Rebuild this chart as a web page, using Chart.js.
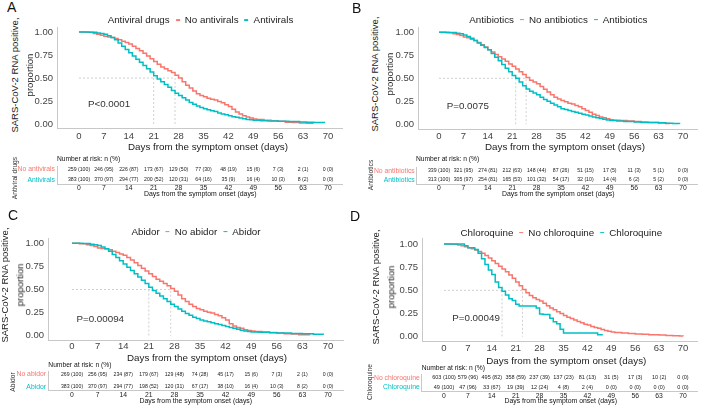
<!DOCTYPE html>
<html><head><meta charset="utf-8">
<script src="https://cdn.jsdelivr.net/npm/chart.js@4.4.1/dist/chart.umd.min.js"></script>
<style>
html,body{margin:0;padding:0;background:#fff;}
#root{position:relative;width:701px;height:408px;overflow:hidden;font-family:"Liberation Sans",Arial,sans-serif;color:#222;}
canvas{position:absolute;}
.t{position:absolute;white-space:nowrap;line-height:1;}
.lg{position:absolute;display:flex;align-items:center;white-space:nowrap;line-height:1;font-size:9.8px;color:#222;transform:translate(-50%,-50%);}
.dash{display:inline-block;width:4px;height:1.6px;margin:0 5px 0 6px;}
</style></head><body><div id="root"></div>
<script>
// ---------- shared ----------
const xTicks=[0,7,14,21,28,35,42,49,56,63,70];
const yTicks=[0,0.25,0.5,0.75,1];
const xTitle="Days from the symptom onset (days)";
const yTitle=["SARS-CoV-2 RNA positive,","proportion"];
const riskTitle="Number at risk: n (%)";

// ---------- Panel A ----------
const groupA="Antiviral drugs";
const namesA=["No antivirals","Antivirals"];
const kmA_no=[[0,1],[2,0.996],[4,0.985],[5,0.975],[6,0.965],[7,0.955],[8,0.945],[9,0.94],[10,0.93],[11,0.915],[12,0.9],[13,0.885],[14,0.87],[15,0.845],[16,0.82],[17,0.795],[18,0.77],[19,0.74],[20,0.71],[21,0.68],[22,0.65],[23,0.62],[24,0.6],[25,0.58],[26,0.56],[27,0.53],[28,0.5],[29,0.46],[30,0.42],[31,0.39],[32,0.36],[33,0.33],[34,0.31],[35,0.295],[36,0.28],[37,0.27],[38,0.26],[39,0.245],[40,0.23],[41,0.21],[42,0.19],[43,0.16],[44,0.13],[45,0.11],[46,0.09],[47,0.075],[48,0.065],[49,0.055],[50,0.048],[52,0.04],[54,0.035],[56,0.03],[58,0.02],[60,0.015],[62,0.01],[64,0.007],[65.8,0.004]];
const kmA_yes=[[0,1],[3,0.997],[5,0.99],[6,0.985],[7,0.975],[8,0.96],[9,0.94],[10,0.915],[11,0.88],[12,0.845],[13,0.81],[14,0.775],[15,0.74],[16,0.705],[17,0.67],[18,0.635],[19,0.6],[20,0.565],[21,0.525],[22,0.49],[23,0.46],[24,0.43],[25,0.4],[26,0.365],[27,0.335],[28,0.31],[29,0.285],[30,0.26],[31,0.235],[32,0.215],[33,0.195],[34,0.18],[35,0.165],[36,0.155],[37,0.145],[38,0.135],[39,0.12],[40,0.11],[41,0.1],[42,0.09],[43,0.08],[44,0.073],[45,0.066],[46,0.058],[47,0.05],[48,0.045],[49,0.04],[51,0.036],[53,0.033],[56,0.03],[59,0.027],[62,0.022],[64,0.02],[66,0.015],[69,0.01]];
const riskA_no=["259 (100)","246 (95)","226 (87)","173 (67)","129 (50)","77 (30)","48 (19)","15 (6)","7 (3)","2 (1)","0 (0)"];
const riskA_yes=["383 (100)","370 (97)","294 (77)","200 (52)","120 (31)","64 (16)","35 (9)","16 (4)","10 (3)","8 (2)","0 (0)"];
const medianA=[21,27];
const pvalA="P<0.0001";

// ---------- Panel B ----------
const groupB="Antibiotics";
const namesB=["No antibiotics","Antibiotics"];
const kmB_no=[[0,1],[2,0.995],[4,0.985],[5,0.975],[6,0.965],[7,0.95],[8,0.94],[9,0.925],[10,0.91],[11,0.89],[12,0.865],[13,0.84],[14,0.81],[15,0.785],[16,0.76],[17,0.735],[18,0.71],[19,0.685],[20,0.655],[21,0.63],[22,0.6],[23,0.57],[24,0.54],[25,0.51],[26,0.48],[27,0.46],[28,0.44],[29,0.41],[30,0.38],[31,0.35],[32,0.32],[33,0.295],[34,0.275],[35,0.26],[36,0.245],[37,0.23],[38,0.22],[39,0.205],[40,0.19],[41,0.17],[42,0.15],[43,0.13],[44,0.11],[45,0.095],[46,0.08],[47,0.07],[48,0.06],[49,0.05],[50,0.045],[52,0.04],[54,0.035],[56,0.03],[58,0.025],[60,0.02],[63,0.015],[65,0.01],[66.3,0.008]];
const kmB_yes=[[0,1],[3,0.997],[5,0.99],[6,0.985],[7,0.97],[8,0.955],[9,0.935],[10,0.91],[11,0.885],[12,0.86],[13,0.835],[14,0.81],[15,0.77],[16,0.73],[17,0.69],[18,0.65],[19,0.61],[20,0.57],[21,0.53],[22,0.5],[23,0.46],[24,0.42],[25,0.385],[26,0.36],[27,0.34],[28,0.32],[29,0.295],[30,0.27],[31,0.25],[32,0.23],[33,0.21],[34,0.19],[35,0.17],[36,0.16],[37,0.15],[38,0.14],[39,0.13],[40,0.12],[41,0.11],[42,0.1],[43,0.09],[44,0.08],[45,0.07],[46,0.062],[47,0.055],[48,0.048],[49,0.04],[51,0.035],[53,0.03],[56,0.025],[58,0.02],[63,0.018],[65,0.012],[67,0.008],[69,0.004]];
const riskB_no=["339 (100)","321 (95)","274 (81)","212 (63)","148 (44)","87 (26)","51 (15)","17 (5)","11 (3)","5 (1)","0 (0)"];
const riskB_yes=["313 (100)","305 (97)","254 (81)","165 (53)","101 (32)","54 (17)","32 (10)","14 (4)","6 (2)","5 (2)","0 (0)"];
const medianB=[22,25];
const pvalB="P=0.0075";

// ---------- Panel C ----------
const groupC="Abidor";
const namesC=["No abidor","Abidor"];
const kmC_no=[[0,1],[2,0.996],[4,0.985],[5,0.975],[6,0.965],[7,0.95],[8,0.945],[9,0.94],[10,0.93],[11,0.915],[12,0.9],[13,0.885],[14,0.87],[15,0.845],[16,0.82],[17,0.79],[18,0.76],[19,0.73],[20,0.7],[21,0.67],[22,0.64],[23,0.61],[24,0.59],[25,0.565],[26,0.54],[27,0.51],[28,0.48],[29,0.44],[30,0.4],[31,0.37],[32,0.34],[33,0.315],[34,0.295],[35,0.28],[36,0.265],[37,0.255],[38,0.245],[39,0.23],[40,0.215],[41,0.195],[42,0.17],[43,0.13],[44,0.105],[45,0.09],[46,0.08],[47,0.065],[48,0.055],[49,0.05],[50,0.045],[52,0.04],[54,0.035],[56,0.03],[58,0.022],[60,0.018],[62,0.01],[65,0.005]];
const kmC_yes=[[0,1],[3,0.997],[5,0.99],[6,0.985],[7,0.975],[8,0.96],[9,0.94],[10,0.915],[11,0.88],[12,0.845],[13,0.81],[14,0.775],[15,0.74],[16,0.705],[17,0.67],[18,0.635],[19,0.6],[20,0.565],[21,0.525],[22,0.49],[23,0.46],[24,0.43],[25,0.4],[26,0.37],[27,0.34],[28,0.315],[29,0.29],[30,0.265],[31,0.24],[32,0.22],[33,0.2],[34,0.185],[35,0.17],[36,0.16],[37,0.15],[38,0.14],[39,0.13],[40,0.12],[41,0.11],[42,0.1],[43,0.09],[44,0.08],[45,0.07],[46,0.06],[47,0.05],[48,0.045],[49,0.04],[51,0.036],[54,0.033],[56,0.03],[60,0.025],[63,0.02],[66,0.015],[68.7,0.01]];
const riskC_no=["269 (100)","256 (95)","234 (87)","179 (67)","129 (48)","74 (28)","45 (17)","15 (6)","7 (3)","2 (1)","0 (0)"];
const riskC_yes=["383 (100)","370 (97)","294 (77)","198 (52)","120 (31)","67 (17)","38 (10)","16 (4)","10 (3)","8 (2)","0 (0)"];
const medianC=[21,27];
const pvalC="P=0.00094";

// ---------- Panel D ----------
const groupD="Chloroquine";
const namesD=["No chloroquine","Chloroquine"];
const kmD_no=[[0,1],[2,0.997],[4,0.99],[5,0.98],[6,0.97],[7,0.96],[8,0.95],[9,0.935],[10,0.92],[11,0.9],[12,0.875],[13,0.85],[14,0.82],[15,0.79],[16,0.76],[17,0.73],[18,0.7],[19,0.665],[20,0.63],[21,0.59],[22,0.55],[23,0.51],[24,0.475],[25,0.445],[26,0.42],[27,0.4],[28,0.385],[29,0.36],[30,0.335],[31,0.31],[32,0.29],[33,0.27],[34,0.25],[35,0.23],[36,0.21],[37,0.195],[38,0.18],[39,0.165],[40,0.15],[41,0.135],[42,0.125],[43,0.11],[44,0.1],[45,0.09],[46,0.078],[47,0.068],[48,0.06],[49,0.05],[50,0.045],[52,0.04],[54,0.035],[56,0.03],[58,0.026],[60,0.022],[63,0.018],[65,0.013],[67,0.01],[69,0.007],[70,0.005]];
const kmD_yes=[[0,1],[6,0.98],[7,0.96],[9,0.94],[10,0.9],[11,0.84],[12,0.78],[13,0.72],[14,0.67],[15,0.59],[16,0.53],[17,0.49],[18,0.45],[19,0.41],[20,0.39],[21,0.35],[22,0.33],[27,0.31],[28,0.245],[29,0.24],[31,0.2],[32,0.16],[33,0.14],[34,0.08],[35,0.04],[45,0.02],[46.5,0.02]];
const riskD_no=["603 (100)","579 (96)","495 (82)","358 (59)","237 (39)","137 (23)","81 (13)","31 (5)","17 (3)","10 (2)","0 (0)"];
const riskD_yes=["49 (100)","47 (96)","33 (67)","19 (39)","12 (24)","4 (8)","2 (4)","0 (0)","0 (0)","0 (0)","0 (0)"];
const medianD=[17,23];
const pvalD="P=0.00049";

// ---------- styling / layout (not data) ----------
const RED="#F8766D", TEAL="#00BFC4", AXC="#c8c8c8", TXT="#333";
const FONT='"Liberation Sans", Arial, sans-serif';
Chart.defaults.font.family=FONT;

const panels=[
 {letter:"A",group:groupA,names:namesA,no:kmA_no,yes:kmA_yes,rNo:riskA_no,rYes:riskA_yes,med:medianA,p:pvalA,
  L:{let:[7,7],leg:[200.5,20],yt:[15,30,75],x0:79,x70:328,y1:32,y0:124,left:57,tickY:136.5,xt:[208,147],pv:[2.5,0.21],
     nar:[57,159.3],r1:169.3,r2:180,tt:188.3,ttl:[200.3,194.3],gl:[14.5,178],tleft:57,vf:5.2}},
 {letter:"B",group:groupB,names:namesB,no:kmB_no,yes:kmB_yes,rNo:riskB_no,rYes:riskB_yes,med:medianB,p:pvalB,
  L:{let:[352,7.5],leg:[558.4,19.5],yt:[375,390,74],x0:439,x70:683,y1:32.3,y0:124.3,left:418,tickY:136.7,xt:[565,146.7],pv:[2.2,0.196],
     nar:[416,159.3],r1:170.7,r2:180,tt:188.3,ttl:[558.3,194.3],gl:[370.5,175],tleft:416.7,vf:5.2}},
 {letter:"C",group:groupC,names:namesC,no:kmC_no,yes:kmC_yes,rNo:riskC_no,rYes:riskC_yes,med:medianC,p:pvalC,
  L:{let:[8,215],leg:[196,231.7],yt:[5,20,285],x0:72,x70:328,y1:243.3,y0:335.7,left:48,tickY:346.7,xt:[207,358.3],pv:[1.2,0.175],
     nar:[48.3,365],r1:374.3,r2:386.7,tt:395,ttl:[195.8,401],gl:[12.5,381.5],tleft:48,vf:5.2}},
 {letter:"D",group:groupD,names:namesD,no:kmD_no,yes:kmD_yes,rNo:riskD_no,rYes:riskD_yes,med:medianD,p:pvalD,
  L:{let:[350,216],leg:[561.3,232.7],yt:[376,391,287],x0:444,x70:683,y1:244,y0:336.7,left:422,tickY:348.3,xt:[566.3,360.7],pv:[2.4,0.197],
     nar:[421.7,367.7],r1:377.7,r2:387.3,tt:395.7,ttl:[560.8,401],gl:[370,381.5],tleft:421.7,vf:5.5}}
];

const root=document.getElementById('root');
function T(txt,x,y,o={}){
  const d=document.createElement('div');d.className='t';d.textContent=txt;
  d.style.fontSize=(o.size||10)+'px';d.style.color=o.color||'#222';
  d.style.left=x+'px';d.style.top=y+'px';
  const tx=o.align==='center'?'-50%':(o.align==='right'?'-100%':'0');
  d.style.transform=o.rot?`translate(-50%,-50%) rotate(${o.rot}deg)`:`translate(${tx},-50%)`;
  root.appendChild(d);return d;
}
function mkCanvas(l,t,r,b){
  const c=document.createElement('canvas');
  const w=Math.round(r-l),h=Math.round(b-t);
  c.width=w;c.height=h;c.style.left=Math.round(l)+'px';c.style.top=Math.round(t)+'px';
  c.style.width=w+'px';c.style.height=h+'px';root.appendChild(c);
  return {c,l:Math.round(l),t:Math.round(t),r:Math.round(l)+w,b:Math.round(t)+h};
}
const pvalPlugin={id:'pval',afterDatasetsDraw(ch,a,o){
  if(!o.text)return;const {ctx,scales:{x,y}}=ch;ctx.save();
  ctx.font=`9.8px ${FONT}`;ctx.fillStyle=TXT;ctx.textAlign='left';ctx.textBaseline='middle';
  ctx.fillText(o.text,x.getPixelForValue(o.x),y.getPixelForValue(o.y));ctx.restore();}};
const riskPlugin={id:'risk',afterDatasetsDraw(ch,a,o){
  const ctx=ch.ctx;ctx.save();ctx.font=`${o.size}px ${FONT}`;ctx.fillStyle='#222';ctx.textAlign='center';ctx.textBaseline='middle';
  ch.data.datasets.forEach((ds,i)=>{const m=ch.getDatasetMeta(i);m.data.forEach((pt,j)=>ctx.fillText(ds.riskText[j],pt.x,pt.y));});
  ctx.restore();}};

panels.forEach(P=>{
  const L=P.L;
  const ppd=(L.x70-L.x0)/70, ppu=L.y0-L.y1;
  const xmax=74.2, xmin=(L.left-L.x0)/ppd;
  const pL=L.left, pR=L.x0+xmax*ppd, pT=L.y1-0.054*ppu, pB=L.y0+0.054*ppu;
  const K=mkCanvas(pL-27,pT-10,Math.min(701,pR+3),pB+16);
  const xPad=Math.max(0,L.tickY-pB-5.7);
  const mMax=Math.max(...P.med), mMin=Math.min(...P.med);
  new Chart(K.c,{type:'line',
    data:{datasets:[
      {data:P.yes.map(([x,y])=>({x,y})),borderColor:TEAL,borderWidth:1.5,stepped:true,pointRadius:0,fill:false},
      {data:P.no.map(([x,y])=>({x,y})),borderColor:RED,borderWidth:1.5,stepped:true,pointRadius:0,fill:false},
      {data:[{x:0,y:0.5},{x:mMax,y:0.5},{x:mMax,y:0},{x:mMax,y:null},{x:mMin,y:0.5},{x:mMin,y:0}],
       borderColor:'#c4c4c4',borderWidth:0.8,borderDash:[2,2],pointRadius:0,spanGaps:false,fill:false}
    ]},
    options:{responsive:false,animation:false,devicePixelRatio:1,events:[],
      layout:{padding:{top:pT-K.t,right:K.r-pR,left:0,bottom:0}},
      plugins:{legend:{display:false},tooltip:{enabled:false},pval:{text:P.p,x:L.pv[0],y:L.pv[1]}},
      scales:{
        x:{type:'linear',min:xmin,max:xmax,grid:{display:false,drawTicks:false},border:{display:true,color:AXC,width:1},
           ticks:{padding:xPad,font:{size:9.5},color:'#444',autoSkip:false,maxRotation:0,callback:v=>String(v)},
           afterBuildTicks:s=>{s.ticks=xTicks.map(v=>({value:v}));},
           afterFit:s=>{s.height=K.b-pB;}},
        y:{type:'linear',min:-0.054,max:1.054,grid:{display:false,drawTicks:false},border:{display:true,color:AXC,width:1},
           ticks:{padding:4,font:{size:9.5},color:'#444',callback:v=>Number(v).toFixed(2)},
           afterBuildTicks:s=>{s.ticks=yTicks.map(v=>({value:v}));},
           afterFit:s=>{s.width=pL-K.l;}}
      }},
    plugins:[pvalPlugin]});

  // risk table
  const tpu=L.r2-L.r1;
  const tT=L.r1-3, tB=L.r2+4;
  const tymax=2+(L.r1-tT)/tpu, tymin=1-(tB-L.r2)/tpu;
  const tL=L.tleft, tR=pR;
  const R=mkCanvas(Math.max(0,tL-58),tT-9,Math.min(701,tR+3),tB+10);
  const txmin=(tL-L.x0)/ppd, txmax=(tR-L.x0)/ppd;
  const tPad=Math.max(0,L.tt-tB-4.1);
  new Chart(R.c,{type:'line',
    data:{datasets:[
      {data:xTicks.map(d=>({x:d,y:2})),riskText:P.rNo,showLine:false,pointRadius:0},
      {data:xTicks.map(d=>({x:d,y:1})),riskText:P.rYes,showLine:false,pointRadius:0}
    ]},
    options:{responsive:false,animation:false,devicePixelRatio:1,events:[],
      layout:{padding:{top:tT-R.t,right:R.r-tR,left:0,bottom:0}},
      plugins:{legend:{display:false},tooltip:{enabled:false},risk:{size:L.vf}},
      scales:{
        x:{type:'linear',min:txmin,max:txmax,grid:{display:false,drawTicks:false},border:{display:true,color:AXC,width:1},
           ticks:{padding:tPad,font:{size:6.8},color:'#222',autoSkip:false,maxRotation:0,callback:v=>String(v)},
           afterBuildTicks:s=>{s.ticks=xTicks.map(v=>({value:v}));},
           afterFit:s=>{s.height=R.b-tB;}},
        y:{type:'linear',min:tymin,max:tymax,grid:{display:false,drawTicks:false},border:{display:true,color:AXC,width:1},
           ticks:{padding:2,font:{size:6.8},color:c=>c.tick&&c.tick.value===2?RED:TEAL,
                  callback:v=>v===2?P.names[0]:P.names[1]},
           afterBuildTicks:s=>{s.ticks=[{value:2},{value:1}];},
           afterFit:s=>{s.width=tL-R.l;}}
      }},
    plugins:[riskPlugin]});

  // texts
  T(P.letter,L.let[0],L.let[1],{size:14,color:'#111'});
  const lg=document.createElement('div');lg.className='lg';lg.style.left=L.leg[0]+'px';lg.style.top=L.leg[1]+'px';
  const s0=document.createElement('span');s0.textContent=P.group;lg.appendChild(s0);
  [RED,TEAL].forEach((col,i)=>{const d=document.createElement('span');d.className='dash';d.style.background=col;lg.appendChild(d);
    const s=document.createElement('span');s.textContent=P.names[i];lg.appendChild(s);});
  root.appendChild(lg);
  T(yTitle[0],L.yt[0],L.yt[2],{size:9.5,rot:-90});
  T(yTitle[1],L.yt[1],L.yt[2],{size:9.5,rot:-90});
  T(xTitle,L.xt[0],L.xt[1],{size:9.8,align:'center'});
  T(riskTitle,L.nar[0],L.nar[1],{size:6.7,color:'#111'});
  T(xTitle,L.ttl[0],L.ttl[1],{size:6.9,align:'center',color:'#111'});
  T(P.group,L.gl[0],L.gl[1],{size:6.7,rot:-90,color:'#333'});
});
</script></body></html>
